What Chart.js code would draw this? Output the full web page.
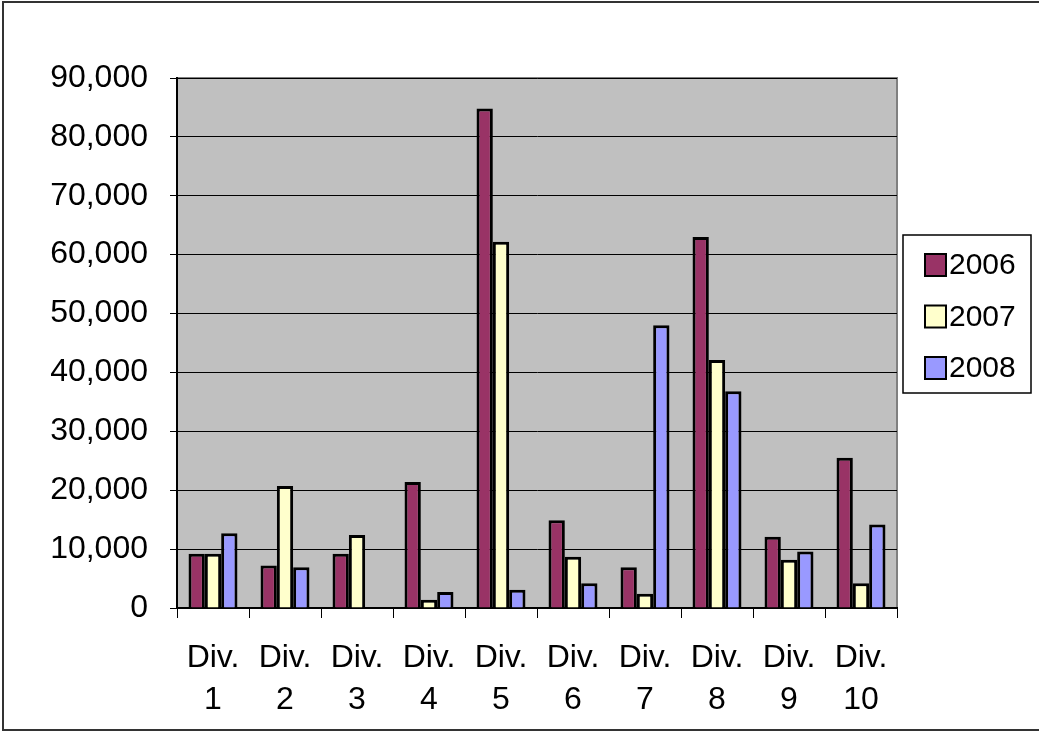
<!DOCTYPE html>
<html>
<head>
<meta charset="utf-8">
<title>Divisions 2006-2008</title>
<script src="https://cdn.jsdelivr.net/npm/chart.js@4.4.1/dist/chart.umd.min.js"></script>
<style>
    html, body { margin: 0; padding: 0; background: #ffffff; }
    #wrap { width: 1039px; height: 732px; position: relative; }
</style>
</head>
<body>
<div id="wrap"><canvas id="chart" width="1039" height="732"></canvas></div>
<script>
// Chart data
const divisions = [['Div.', '1'], ['Div.', '2'], ['Div.', '3'], ['Div.', '4'], ['Div.', '5'],
                   ['Div.', '6'], ['Div.', '7'], ['Div.', '8'], ['Div.', '9'], ['Div.', '10']];
const seriesNames = ['2006', '2007', '2008'];
const values2006 = [9200, 7200, 9200, 21400, 84800, 14900, 6900, 63000, 12100, 25500];
const values2007 = [9200, 20700, 12400, 1400, 62200, 8700, 2400, 42100, 8200, 4200];
const values2008 = [12700, 6900, null, 2700, 3100, 4200, 48000, 36800, 9600, 14200];
const yTicks = [0, 10000, 20000, 30000, 40000, 50000, 60000, 70000, 80000, 90000];

const seriesColors = ['#993366', '#ffffcc', '#9999ff'];

Chart.defaults.font.family = '"Liberation Sans", Arial, sans-serif';
Chart.defaults.color = '#000000';

// Gray plot area + frame around the whole picture
const plotBackground = {
    id: 'plotBackground',
    beforeDraw(chart) {
        const { ctx, chartArea: a } = chart;
        ctx.save();
        ctx.fillStyle = '#ffffff';
        ctx.fillRect(0, 0, chart.width, chart.height);
        ctx.fillStyle = '#c0c0c0';
        ctx.fillRect(a.left, a.top, a.right - a.left, a.bottom - a.top);
        ctx.strokeStyle = '#808080';
        ctx.lineWidth = 2;
        ctx.beginPath();
        ctx.moveTo(a.left, a.top);
        ctx.lineTo(a.right, a.top);
        ctx.lineTo(a.right, a.bottom);
        ctx.stroke();
        ctx.restore();
    },
    afterDraw(chart) {
        const ctx = chart.ctx;
        ctx.save();
        ctx.strokeStyle = '#333333';
        ctx.lineWidth = 2;
        ctx.strokeRect(3, 2, chart.width + 10, 728);
        ctx.restore();
    }
};

// Boxed legend at the right, like the original
const boxedLegend = {
    id: 'boxedLegend',
    afterDraw(chart) {
        const ctx = chart.ctx;
        const x = 903, y = 235, w = 128, h = 158;
        ctx.save();
        ctx.fillStyle = '#ffffff';
        ctx.fillRect(x, y, w, h);
        ctx.strokeStyle = '#000000';
        ctx.lineWidth = 1.5;
        ctx.strokeRect(x, y, w, h);
        ctx.font = '30px "Liberation Sans", Arial, sans-serif';
        ctx.textBaseline = 'middle';
        chart.data.datasets.forEach((ds, i) => {
            const cy = 265 + i * 51.5;
            ctx.fillStyle = ds.backgroundColor;
            ctx.fillRect(925, cy - 11, 21, 22);
            ctx.lineWidth = 2;
            ctx.strokeRect(925, cy - 11, 21, 22);
            ctx.fillStyle = '#000000';
            ctx.fillText(ds.label, 949, cy + 1);
        });
        ctx.restore();
    }
};

const datasetsFrom = [values2006, values2007, values2008].map((vals, i) => ({
    label: seriesNames[i],
    data: vals,
    backgroundColor: seriesColors[i],
    borderColor: '#000000',
    borderWidth: 3,
    borderSkipped: 'bottom',
    categoryPercentage: 0.68,
    barPercentage: 1.0
}));

new Chart(document.getElementById('chart').getContext('2d'), {
    type: 'bar',
    data: {
        labels: divisions,
        datasets: datasetsFrom
    },
    options: {
        responsive: false,
        animation: false,
        layout: {
            padding: { left: 50, right: 142, top: 78, bottom: 0 }
        },
        plugins: {
            legend: { display: false },
            tooltip: { enabled: false }
        },
        scales: {
            x: {
                afterFit(scale) { scale.height = 124; },
                grid: {
                    offset: true,
                    drawOnChartArea: false,
                    drawTicks: true,
                    tickLength: 10,
                    color: '#000000',
                    lineWidth: 1
                },
                border: { color: '#000000', width: 2 },
                ticks: {
                    font: { size: 32, lineHeight: 1.31 },
                    padding: 19,
                    maxRotation: 0,
                    autoSkip: false
                }
            },
            y: {
                min: 0,
                max: 90000,
                afterFit(scale) { scale.width = 127; },
                afterBuildTicks(axis) {
                    axis.ticks = yTicks.map(v => ({ value: v }));
                },
                grid: {
                    color: '#000000',
                    lineWidth: 1,
                    tickLength: 7,
                    drawTicks: true
                },
                border: { color: '#000000', width: 2 },
                ticks: {
                    font: { size: 32 },
                    padding: 22,
                    callback: v => v.toLocaleString('en-US')
                }
            }
        }
    },
    plugins: [plotBackground, boxedLegend]
});
</script>
</body>
</html>
